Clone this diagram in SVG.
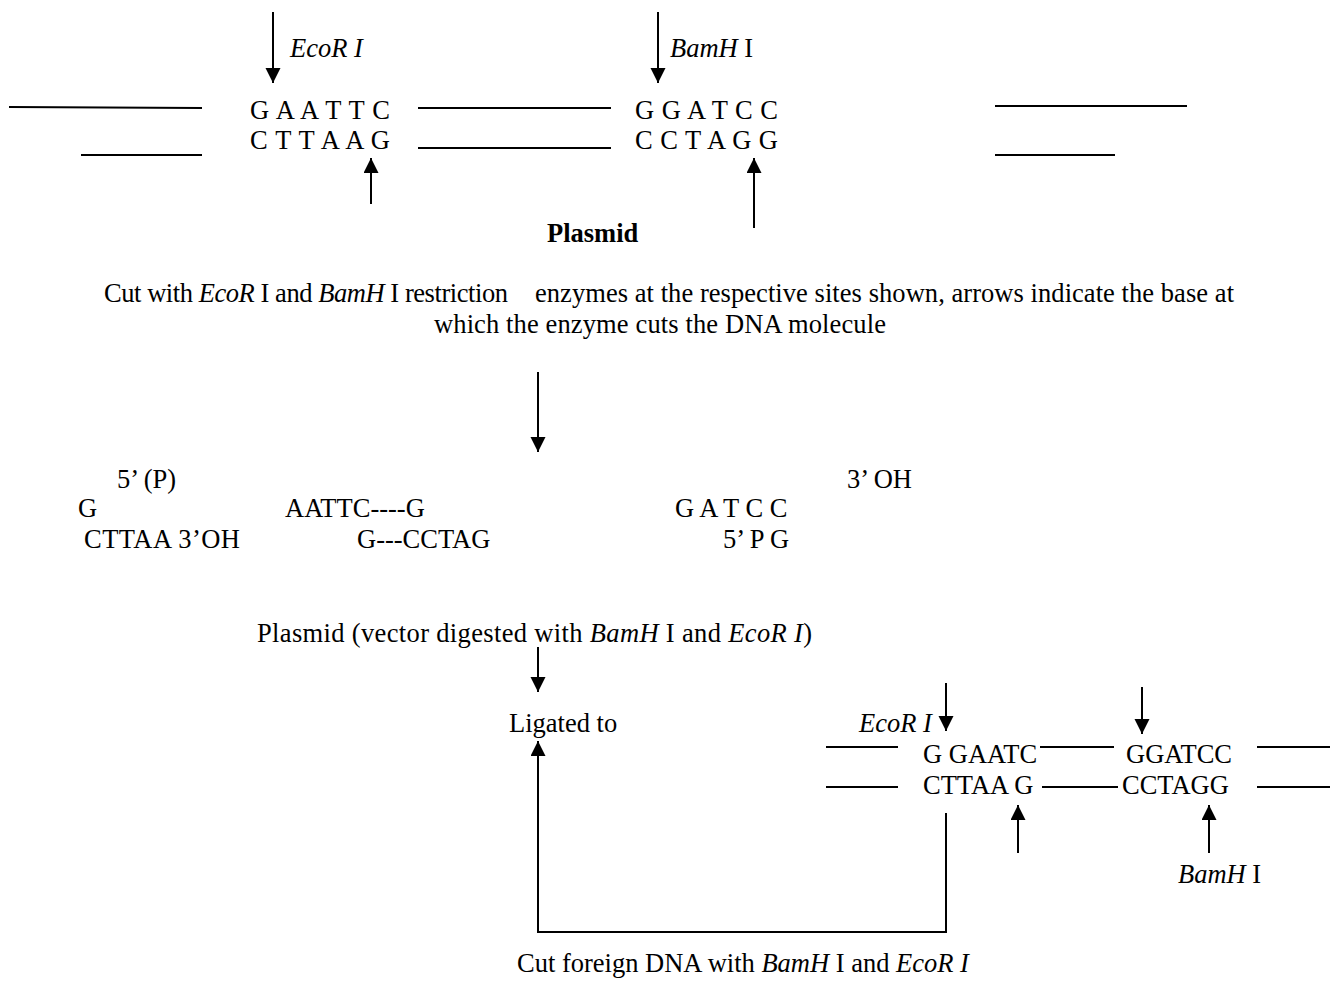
<svg xmlns="http://www.w3.org/2000/svg" width="1340" height="983" viewBox="0 0 1340 983">
<style>
text{font-family:"Liberation Serif","Times New Roman",serif;font-size:26.5px;fill:#000}
.i{font-style:italic}
.b{font-weight:bold}
.ln{stroke:#000;stroke-width:2;fill:none}
.ar{stroke:#000;stroke-width:2;fill:none;marker-end:url(#ah)}
</style>
<defs>
<marker id="ah" markerUnits="userSpaceOnUse" markerWidth="16" markerHeight="16" refX="15" refY="7.5" orient="auto">
<path d="M0,0 L15,7.5 L0,15 z" fill="#000"/>
</marker>
</defs>
<rect width="1340" height="983" fill="#fff"/>

<g id="plasmid-top">
<line class="ln" x1="9" y1="107" x2="202" y2="108"/>
<line class="ln" x1="81" y1="155" x2="202" y2="155"/>
<text x="250" y="119" textLength="140" lengthAdjust="spacing">G A A T T C</text>
<text x="250" y="149" textLength="140" lengthAdjust="spacing">C T T A A G</text>
<line class="ln" x1="418" y1="108" x2="611" y2="108"/>
<line class="ln" x1="418" y1="148" x2="611" y2="148"/>
<text x="635" y="119" textLength="143" lengthAdjust="spacing">G G A T C C</text>
<text x="635" y="149" textLength="143" lengthAdjust="spacing">C C T A G G</text>
<line class="ln" x1="995" y1="106" x2="1187" y2="106"/>
<line class="ln" x1="995" y1="155" x2="1115" y2="155"/>
<text x="290" y="57" class="i">EcoR I</text>
<text x="670" y="57"><tspan class="i">BamH</tspan> I</text>
<text x="547" y="242" class="b">Plasmid</text>
</g>

<g id="cut-text">
<text x="104" y="302" textLength="404" lengthAdjust="spacing">Cut with <tspan class="i">EcoR</tspan> I and <tspan class="i">BamH</tspan> I restriction</text>
<text x="535" y="302" textLength="699" lengthAdjust="spacing">enzymes at the respective sites shown, arrows indicate the base at</text>
<text x="434" y="333" textLength="452" lengthAdjust="spacing">which the enzyme cuts the DNA molecule</text>
</g>

<g id="digested">
<text x="117" y="488">5’ (P)</text>
<text x="847" y="488">3’ OH</text>
<text x="78" y="517">G</text>
<text x="285" y="517">AATTC----G</text>
<text x="675" y="517">G A T C C</text>
<text x="84" y="548" textLength="156" lengthAdjust="spacing">CTTAA 3’OH</text>
<text x="357" y="548">G---CCTAG</text>
<text x="723" y="548">5’ P G</text>
</g>

<g id="vector-label">
<text x="257" y="642" textLength="555" lengthAdjust="spacing">Plasmid (vector digested with <tspan class="i">BamH</tspan> I and <tspan class="i">EcoR I</tspan>)</text>
</g>

<g id="ligated">
<text x="509" y="732">Ligated to</text>
</g>

<g id="foreign-dna">
<text x="859" y="732" class="i">EcoR I</text>
<line class="ln" x1="826" y1="747" x2="898" y2="747"/>
<line class="ln" x1="826" y1="787" x2="898" y2="787"/>
<text x="923" y="763">G GAATC</text>
<line class="ln" x1="1040" y1="747" x2="1114" y2="747"/>
<text x="1126" y="763">GGATCC</text>
<line class="ln" x1="1257" y1="747" x2="1330" y2="747"/>
<text x="923" y="794">CTTAA G</text>
<line class="ln" x1="1042" y1="787" x2="1118" y2="787"/>
<text x="1122" y="794">CCTAGG</text>
<line class="ln" x1="1257" y1="787" x2="1330" y2="787"/>
<text x="1178" y="883"><tspan class="i">BamH</tspan> I</text>
</g>

<g id="foreign-label">
<text x="517" y="972">Cut foreign DNA with <tspan class="i">BamH</tspan> I and <tspan class="i">EcoR I</tspan></text>
</g>

<g id="connectors">
<line class="ar" x1="273" y1="12" x2="273" y2="83"/>
<line class="ar" x1="658" y1="12" x2="658" y2="83"/>
<line class="ar" x1="371" y1="204" x2="371" y2="158"/>
<line class="ar" x1="754" y1="228" x2="754" y2="158"/>
<line class="ar" x1="538" y1="372" x2="538" y2="452"/>
<line class="ar" x1="538" y1="647" x2="538" y2="692"/>
<line class="ar" x1="946" y1="683" x2="946" y2="731"/>
<line class="ar" x1="1142" y1="687" x2="1142" y2="734"/>
<line class="ar" x1="1018" y1="853" x2="1018" y2="805"/>
<line class="ar" x1="1209" y1="853" x2="1209" y2="805"/>
<path class="ar" d="M946,813 L946,932 L538,932 L538,741"/>
</g>
</svg>
